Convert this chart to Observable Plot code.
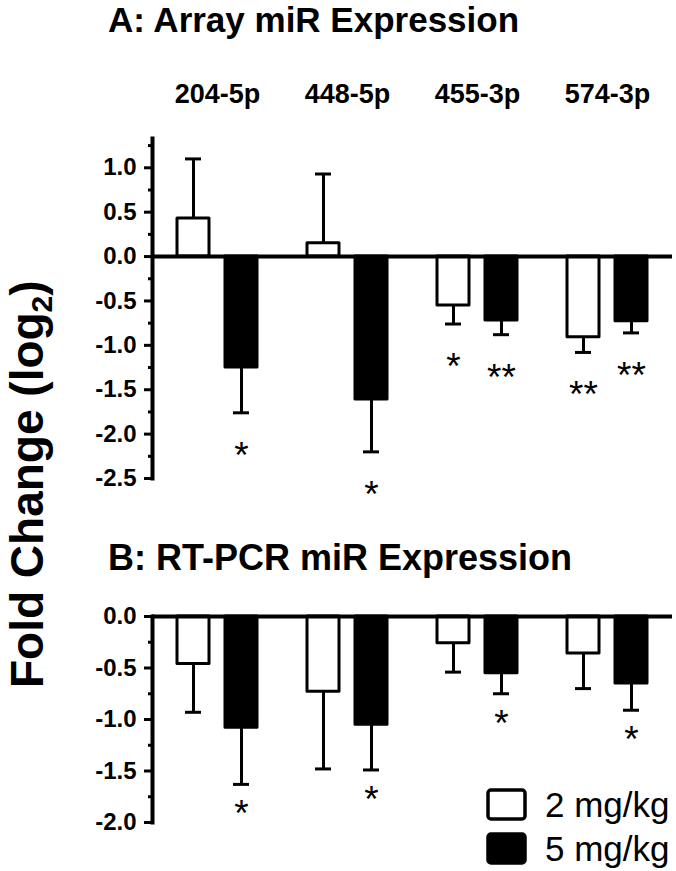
<!DOCTYPE html>
<html>
<head>
<meta charset="utf-8">
<script src="https://cdn.jsdelivr.net/npm/d3@7"></script>
<script src="https://cdn.jsdelivr.net/npm/@observablehq/plot@0.6"></script>
<style>
  html, body { margin: 0; padding: 0; background: white; }
  #root { position: relative; width: 676px; height: 871px; overflow: hidden; background: white;
          font-family: "Liberation Sans", Arial, Helvetica, sans-serif; }
  #plotA, #plotB, #overlay { position: absolute; left: 0; }
  #plotA { top: 0; }
  #plotB { top: 590px; }
  #overlay { top: 0; pointer-events: none; }
</style>
</head>
<body>
<div id="root">
  <div id="plotA"></div>
  <div id="plotB"></div>
  <svg id="overlay" width="676" height="871" xmlns="http://www.w3.org/2000/svg"
       font-family="Liberation Sans, Arial, Helvetica, sans-serif">
    <text x="108" y="32" font-size="35" font-weight="bold">A: Array miR Expression</text>
    <text x="108" y="570" font-size="36" font-weight="bold">B: RT-PCR miR Expression</text>
    <g transform="translate(43,688) rotate(-90)">
      <text x="0" y="0" font-size="46" font-weight="bold">Fold Change (log<tspan font-size="30" dy="9">2</tspan><tspan dy="-9">)</tspan></text>
    </g>
    <g id="legend"></g>
  </svg>
</div>
<script>
// ---------- data ----------
const categories = ["204-5p", "448-5p", "455-3p", "574-3p"];
const doses = ["2 mg/kg", "5 mg/kg"];

// Panel A: array miR expression (log2 fold change, mean and SEM)
const arrayMean2 = [0.43, 0.15, -0.55, -0.91];
const arraySem2  = [0.67, 0.78, 0.21, 0.17];
const arraySig2  = ["", "", "*", "**"];
const arrayMean5 = [-1.25, -1.61, -0.72, -0.73];
const arraySem5  = [0.51, 0.59, 0.16, 0.13];
const arraySig5  = ["*", "*", "**", "**"];

// Panel B: RT-PCR miR expression
const pcrMean2 = [-0.46, -0.73, -0.26, -0.36];
const pcrSem2  = [0.47, 0.75, 0.28, 0.34];
const pcrSig2  = ["", "", "", ""];
const pcrMean5 = [-1.08, -1.05, -0.55, -0.65];
const pcrSem5  = [0.55, 0.44, 0.20, 0.26];
const pcrSig5  = ["*", "*", "*", "*"];

// axis ticks
const majorTicksA = [-2.5, -2.0, -1.5, -1.0, -0.5, 0.0, 0.5, 1.0];
const minorTicksA = [-2.25, -1.75, -1.25, -0.75, -0.25, 0.25, 0.75, 1.25];
const majorTicksB = [-2.0, -1.5, -1.0, -0.5, 0.0];
const minorTicksB = [-1.75, -1.25, -0.75, -0.25];

// ---------- build tables ----------
function table(m2, s2, g2, m5, s5, g5) {
  const rows = [];
  categories.forEach((c, i) => {
    [[doses[0], m2[i], s2[i], g2[i]], [doses[1], m5[i], s5[i], g5[i]]].forEach(([dose, v, s, g]) => {
      rows.push({cat: c, dose, value: v, end: v + Math.sign(v) * s, sig: g});
    });
  });
  return rows;
}
const dataA = table(arrayMean2, arraySem2, arraySig2, arrayMean5, arraySem5, arraySig5);
const dataB = table(pcrMean2, pcrSem2, pcrSig2, pcrMean5, pcrSem5, pcrSig5);

const font = "Liberation Sans, Arial, Helvetica, sans-serif";
const fmt = d => d.toFixed(1);

function panel({data, height, marginTop, marginBottom, domain, major, minor, showCats, starDy}) {
  const marks = [
    Plot.barY(data, {fx: "cat", x: "dose", y: "value", fill: "dose", stroke: "black",
                     strokeWidth: 3, strokeLinejoin: "round"}),
    Plot.ruleX(data, {fx: "cat", x: "dose", y1: "value", y2: "end", stroke: "black", strokeWidth: 3}),
    Plot.tickY(data, {fx: "cat", x: "dose", y: "end", stroke: "black", strokeWidth: 3,
                      insetLeft: 8, insetRight: 8}),
    Plot.text(data.filter(d => d.sig), {fx: "cat", x: "dose", y: "end", text: "sig",
                      dy: starDy, fontSize: 37, fontWeight: "normal", fill: "black"}),
    Plot.ruleY([0], {stroke: "black", strokeWidth: 4}),
    Plot.frame({anchor: "left", stroke: "black", strokeWidth: 4, facetAnchor: "left"}),
    Plot.axisY({ticks: major, tickFormat: fmt, tickSize: 8, tickPadding: 8, strokeWidth: 3,
                fontSize: 24, label: null}),
    Plot.axisY({ticks: minor, tickSize: 4, strokeWidth: 3, fill: "none", label: null})
  ];
  if (showCats) {
    marks.push(Plot.axisFx({anchor: "top", tickSize: 0, tickPadding: 36, fontSize: 27, label: null}));
  }
  return Plot.plot({
    width: 676,
    height,
    marginLeft: 150,
    marginRight: 3,
    marginTop,
    marginBottom,
    style: {fontFamily: font, fontWeight: "bold", fontSize: "22px", color: "black", background: "transparent", overflow: "visible"},
    fx: {domain: categories, paddingInner: 0, paddingOuter: 0, label: null, axis: null},
    x: {domain: doses, paddingInner: 0.33, paddingOuter: 0.5, axis: null},
    y: {domain, axis: null},
    color: {domain: doses, range: ["white", "black"]},
    marks
  });
}

document.getElementById("plotA").appendChild(panel({
  data: dataA, height: 500, marginTop: 138, marginBottom: 22,
  domain: [-2.5, 1.33], major: majorTicksA, minor: minorTicksA, showCats: true, starDy: 43
}));
document.getElementById("plotB").appendChild(panel({
  data: dataB, height: 260, marginTop: 26, marginBottom: 28,
  domain: [-2, 0], major: majorTicksB, minor: minorTicksB, showCats: false, starDy: 30
}));

// ---------- legend ----------
const legend = d3.select("#legend");
const fills = ["white", "black"];
doses.forEach((d, i) => {
  const y0 = 788 + i * 44;
  legend.append("rect")
    .attr("x", 488).attr("y", y0 + 2).attr("width", 37).attr("height", 29)
    .attr("rx", 3).attr("fill", fills[i]).attr("stroke", "black").attr("stroke-width", 3.5);
  legend.append("text")
    .attr("x", 545).attr("y", y0 + 29)
    .attr("font-size", 35).attr("fill", "black")
    .text(d);
});
</script>
</body>
</html>
